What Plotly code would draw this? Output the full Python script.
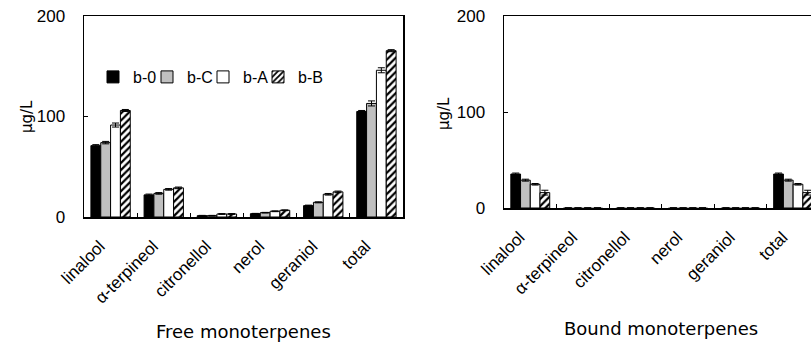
import plotly.graph_objects as go

categories = ["linalool", "α-terpineol", "citronellol", "nerol", "geraniol", "total"]
series_names = ["b-0", "b-C", "b-A", "b-B"]

free_b0 = [71, 22, 1.3, 3.3, 11.3, 105]
free_bC = [74, 23.5, 1.3, 4.3, 14.6, 113]
free_bA = [91.5, 27.5, 3, 5.7, 22.6, 146]
free_bB = [106, 29, 3, 6.7, 25, 165.5]
free_err_b0 = [1, 0.8, 0.3, 0.3, 0.5, 1]
free_err_bC = [1.2, 0.8, 0.3, 0.3, 0.5, 2.5]
free_err_bA = [2, 0.8, 0.4, 0.4, 0.8, 2.5]
free_err_bB = [1, 0.8, 0.4, 0.4, 0.8, 1]

bound_b0 = [35.4, 0.2, 0.2, 0.2, 0.2, 35.4]
bound_bC = [29, 0.2, 0.2, 0.2, 0.2, 29]
bound_bA = [24.7, 0.2, 0.2, 0.2, 0.2, 24.7]
bound_bB = [16, 0.2, 0.2, 0.2, 0.2, 16]
bound_err_b0 = [1, 0, 0, 0, 0, 1]
bound_err_bC = [1, 0, 0, 0, 0, 1]
bound_err_bA = [0.8, 0, 0, 0, 0, 0.8]
bound_err_bB = [2.5, 0, 0, 0, 0, 2.5]

y_ticks = [0, 100, 200]

styles = [
    dict(color="black", pattern=None),
    dict(color="#C0C0C0", pattern=None),
    dict(color="white", pattern=None),
    dict(color="white", pattern=dict(shape="/", fgcolor="black", bgcolor="white",
                                     size=5, solidity=0.45, fillmode="replace")),
]

W, H = 811, 342


def px_x(p):
    return p / W


def px_y(p):
    return 1 - p / H


legend_ids = ["legend", "legend2", "legend3", "legend4"]
legend_left_px = [93, 147, 203, 258]

fig = go.Figure()

free = [(free_b0, free_err_b0), (free_bC, free_err_bC), (free_bA, free_err_bA), (free_bB, free_err_bB)]
bound = [(bound_b0, bound_err_b0), (bound_bC, bound_err_bC), (bound_bA, bound_err_bA), (bound_bB, bound_err_bB)]


def make_marker(i, vals):
    st = styles[i]
    marker = dict(
        color=st["color"],
        line=dict(color=["black" if v >= 1 else "#a8a8a8" for v in vals], width=1),
    )
    if st["pattern"]:
        marker["pattern"] = st["pattern"]
    return marker


for i, (name, (vals, errs)) in enumerate(zip(series_names, free)):
    fig.add_trace(go.Bar(
        x=categories, y=vals, name=name, marker=make_marker(i, vals),
        error_y=dict(type="data", array=errs, color="black", thickness=1, width=3.5),
        xaxis="x", yaxis="y", showlegend=True, offsetgroup=str(i),
        legend=legend_ids[i], hoverinfo="skip",
    ))

for i, (name, (vals, errs)) in enumerate(zip(series_names, bound)):
    fig.add_trace(go.Bar(
        x=categories, y=vals, name=name, marker=make_marker(i, vals),
        error_y=dict(type="data", array=errs, color="black", thickness=1, width=3.5),
        xaxis="x2", yaxis="y2", showlegend=False, offsetgroup=str(i),
        hoverinfo="skip",
    ))

# invisible carriers so the label-only axes get drawn
idx = list(range(len(categories)))
for xa, ya in (("x3", "y"), ("x4", "y2")):
    fig.add_trace(go.Scatter(
        x=idx, y=[0] * len(idx), xaxis=xa, yaxis=ya, mode="markers",
        marker=dict(opacity=0, size=1), showlegend=False, hoverinfo="skip",
    ))

xfont = dict(family="Liberation Sans, Arial", size=17, color="black")
yfont = dict(family="Liberation Sans, Arial", size=17, color="black")

common_x = dict(
    type="category", categoryorder="array", categoryarray=categories,
    showline=True, linecolor="black", linewidth=1.5,
    ticks="inside", ticklen=4, tickcolor="black", tickson="boundaries",
    showticklabels=False, showgrid=False, zeroline=False,
    automargin=False,
)
# label-only axes (shifted so that the rotated labels end left of each group centre)
label_shift = 0.2
label_x = dict(
    type="linear", tickmode="array", tickvals=idx,
    ticktext=categories, tickangle=-45, tickfont=xfont,
    showline=False, ticks="", showgrid=False, zeroline=False,
    automargin=False, ticklabelstandoff=15, side="bottom",
)
common_y = dict(
    range=[0, 200], tickvals=y_ticks, ticktext=[str(v) for v in y_ticks],
    showline=True, linecolor="black", linewidth=1.5,
    ticks="inside", ticklen=4, tickcolor="black",
    tickfont=yfont, showgrid=False, zeroline=False,
    ticklabelstandoff=14, automargin=False,
)

legend_common = dict(
    orientation="h", y=px_y(60), xanchor="left", yanchor="top",
    font=dict(family="Liberation Sans, Arial", size=16, color="black"),
    bgcolor="rgba(0,0,0,0)", itemwidth=30, borderwidth=0,
)

layout_legends = {}
for lid, lx in zip(legend_ids, legend_left_px):
    layout_legends[lid] = dict(legend_common, x=px_x(lx))

dom1 = [px_x(84), px_x(403)]
dom2 = [px_x(504), 1.0]
r1 = [-0.5, 5.5]
r2 = [-0.5, 5.34]

fig.update_layout(
    template="none",
    width=W, height=H, autosize=False,
    margin=dict(l=0, r=0, t=0, b=0, autoexpand=False),
    paper_bgcolor="white", plot_bgcolor="white",
    barmode="group", bargap=0.26, bargroupgap=0,
    xaxis=dict(common_x, domain=dom1, anchor="y", mirror=True, range=r1),
    yaxis=dict(common_y, domain=[px_y(217), px_y(16)], anchor="x", mirror=True),
    xaxis2=dict(common_x, domain=dom2, anchor="y2", mirror=True, range=r2),
    yaxis2=dict(common_y, domain=[px_y(208), px_y(16)], anchor="x2", mirror=False),
    xaxis3=dict(label_x, domain=dom1, anchor="y", overlaying="x",
                range=[r1[0] + label_shift, r1[1] + label_shift]),
    xaxis4=dict(label_x, domain=dom2, anchor="y2", overlaying="x2",
                range=[r2[0] + label_shift, r2[1] + label_shift]),
    showlegend=True,
    annotations=[
        dict(text="Free monoterpenes", x=px_x(244), y=px_y(331), xref="paper", yref="paper",
             showarrow=False, xanchor="center", yanchor="middle",
             font=dict(family="DejaVu Sans", size=18, color="black")),
        dict(text="Bound monoterpenes", x=px_x(661), y=px_y(328), xref="paper", yref="paper",
             showarrow=False, xanchor="center", yanchor="middle",
             font=dict(family="DejaVu Sans", size=18, color="black")),
        dict(text="μg/L", x=px_x(27), y=px_y(117), xref="paper", yref="paper",
             showarrow=False, xanchor="center", yanchor="middle", textangle=-90,
             font=dict(family="DejaVu Sans", size=15, color="black")),
        dict(text="μg/L", x=px_x(444), y=px_y(114), xref="paper", yref="paper",
             showarrow=False, xanchor="center", yanchor="middle", textangle=-90,
             font=dict(family="DejaVu Sans", size=15, color="black")),
    ],
    **layout_legends,
)

fig.write_html("out.html", post_script="document.body.style.margin='0';",
               config={"displayModeBar": False, "staticPlot": True})
